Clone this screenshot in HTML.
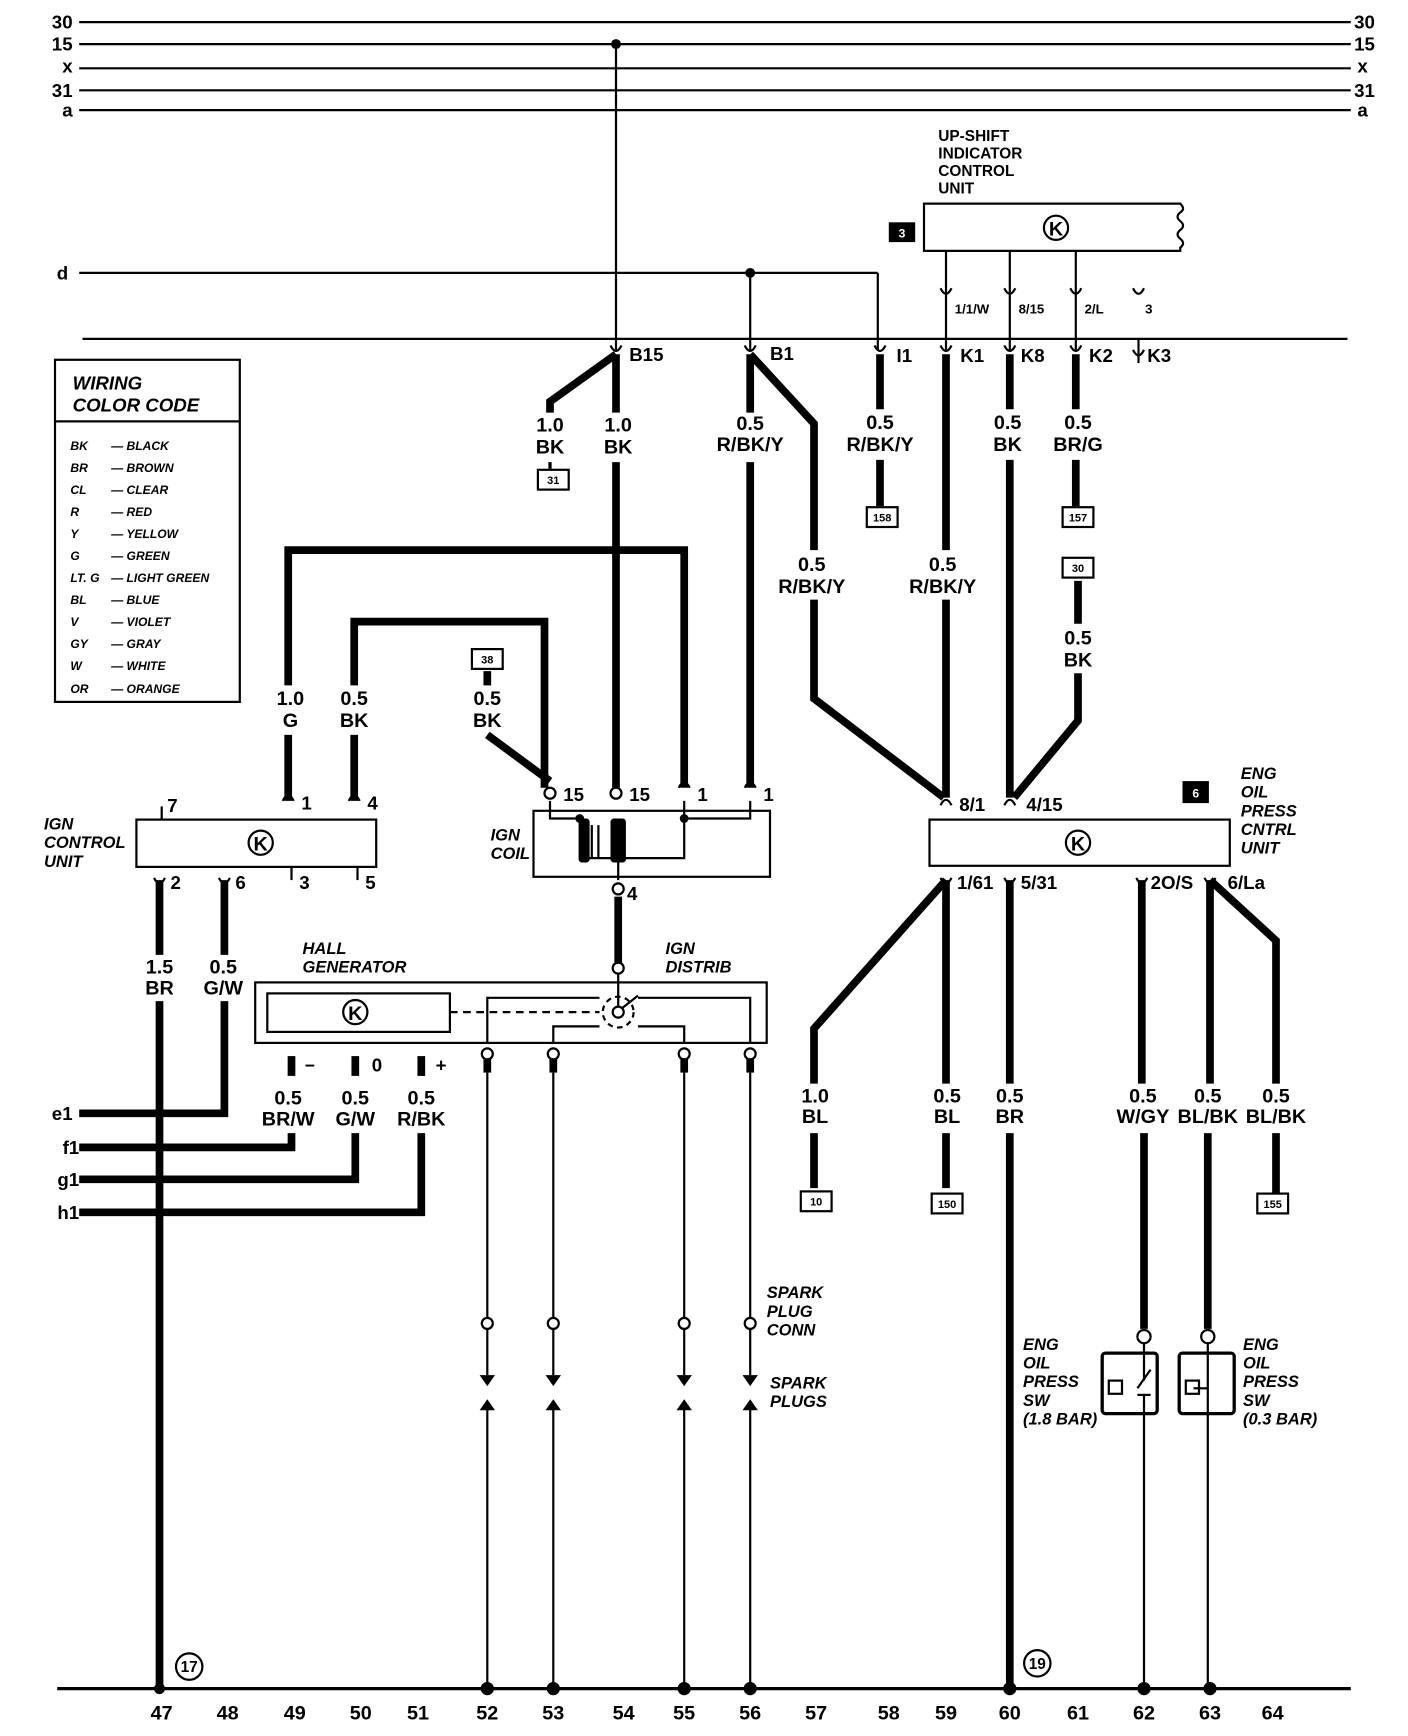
<!DOCTYPE html>
<html><head><meta charset="utf-8"><style>
html,body{margin:0;padding:0;background:#fff}
svg{display:block}
text{font-family:"Liberation Sans",Arial,sans-serif;font-weight:bold;fill:#000}
.w{font-size:18px;text-anchor:middle}
.i{font-style:italic;font-size:15px}
.s{font-size:13px}
.n{font-size:18px;text-anchor:middle}
</style></head><body>
<svg width="1408" height="1736" viewBox="0 0 1280 1578" xmlns="http://www.w3.org/2000/svg">
<g stroke="#000" fill="none" stroke-width="2">
<line x1="72" y1="20" x2="1228" y2="20"/>
<line x1="72" y1="40" x2="1228" y2="40"/>
<line x1="72" y1="62" x2="1228" y2="62"/>
<line x1="72" y1="82" x2="1228" y2="82"/>
<line x1="72" y1="100" x2="1228" y2="100"/>
<line x1="72" y1="248" x2="798" y2="248"/>
<line x1="798" y1="248" x2="798" y2="318"/>
<line x1="560" y1="40" x2="560" y2="318"/>
<line x1="682" y1="248" x2="682" y2="318"/>
<line x1="75" y1="308" x2="1225" y2="308"/>
<path d="M840 185 H1073 q5 5 0 8 q-5 4 0 8 q5 4 0 8 q-5 4 0 8 q5 4 0 8 V228 H840 Z"/>
<line x1="860" y1="228" x2="860" y2="318"/>
<line x1="918" y1="228" x2="918" y2="318"/>
<line x1="978" y1="228" x2="978" y2="318"/>
<path d="M855 262 q5 10 10 0 M913 262 q5 10 10 0 M973 262 q5 10 10 0 M1030 262 q5 10 10 0"/>
<line x1="1035" y1="308" x2="1035" y2="330" />
<path d="M1030 318 q5 10 10 0"/>
<rect x="50" y="327" width="168" height="311"/>
<line x1="50" y1="383" x2="218" y2="383"/>
</g>
<g fill="none" stroke="#000" stroke-width="7">
<path d="M560 322 L500 365 V375"/>
<path d="M560 322 V375"/>
<line x1="500" y1="420" x2="500" y2="426" stroke-width="3"/>
<path d="M560 420 V716"/>
<path d="M682 322 V375"/>
<path d="M682 420 V716"/>
<path d="M682 322 L740 385 V500"/>
<path d="M740 545 V635 L858 725"/>
<path d="M800 322 V372"/><path d="M800 418 V460"/>
<path d="M860 322 V500"/><path d="M860 545 V725"/>
<path d="M918 322 V372"/><path d="M918 418 V725"/>
<path d="M978 322 V372"/><path d="M978 418 V460"/>
<path d="M980 528 V567"/><path d="M980 612 V655 L922 725"/>
<path d="M262 623 V500 H622 V716"/>
<path d="M262 668 V728"/>
<path d="M322 623 V565 H495 V716"/>
<path d="M322 668 V728"/>
<path d="M443 610 V623"/><path d="M443 668 L500 710"/>
<path d="M145 800 V868"/><path d="M145 910 V1535"/>
<path d="M204 800 V868"/><path d="M204 910 V1012 H72"/>
<path d="M72 1043 H265 V1030"/><path d="M265 960 V978"/>
<path d="M72 1072 H323 V1030"/><path d="M323 960 V978"/>
<path d="M72 1102 H383 V1030"/><path d="M383 960 V978"/>
<path d="M562 815 V875"/>
<path d="M443 960 V975"/><path d="M503 960 V975"/><path d="M622 960 V975"/><path d="M682 960 V975"/>
<path d="M860 800 L740 935 V985"/><path d="M740 1030 V1080"/>
<path d="M860 800 V985"/><path d="M860 1030 V1080"/>
<path d="M918 800 V985"/><path d="M918 1030 V1535"/>
<path d="M1038 800 V985"/><path d="M1040 1030 V1208"/>
<path d="M1100 800 V985"/><path d="M1098 1030 V1208"/>
<path d="M1100 800 L1160 855 V985"/><path d="M1160 1030 V1085"/>
</g>
<g fill="none" stroke="#000" stroke-width="2">
<rect x="124" y="745" width="218" height="43"/>
<rect x="485" y="737" width="215" height="60"/>
<rect x="232" y="893" width="465" height="55"/>
<rect x="243" y="903" width="166" height="35"/>
<rect x="845" y="745" width="273" height="42"/>
<line x1="409" y1="920" x2="545" y2="920" stroke-dasharray="7,5"/>
<path d="M443 948 V907 H545 M503 948 V933 H545 M622 948 V933 H580 M682 948 V907 H580"/>
<circle cx="562" cy="920" r="14" stroke-dasharray="5,4"/>
<line x1="562" y1="884" x2="562" y2="915"/>
<line x1="566" y1="916" x2="580" y2="905"/>
<path d="M500 728 V744 H527 M527 780 H562 V800 M622 728 V780 H562 M622 744 H682 V728"/>
<line x1="538" y1="750" x2="538" y2="780"/><line x1="544" y1="750" x2="544" y2="780"/>
<line x1="147" y1="733" x2="147" y2="745"/>
<line x1="265" y1="788" x2="265" y2="800"/>
<line x1="325" y1="788" x2="325" y2="800"/>
<g>
<line x1="443" y1="975" x2="443" y2="1250"/><line x1="503" y1="975" x2="503" y2="1250"/>
<line x1="622" y1="975" x2="622" y2="1250"/><line x1="682" y1="975" x2="682" y2="1250"/>
<line x1="443" y1="1278" x2="443" y2="1535"/><line x1="503" y1="1278" x2="503" y2="1535"/>
<line x1="622" y1="1278" x2="622" y2="1535"/><line x1="682" y1="1278" x2="682" y2="1535"/>
</g>
<rect x="1002" y="1230" width="50" height="55" rx="3" stroke-width="3"/>
<rect x="1072" y="1230" width="50" height="55" rx="3" stroke-width="3"/>
<line x1="1040" y1="1220" x2="1040" y2="1255"/><line x1="1040" y1="1268" x2="1040" y2="1535"/>
<line x1="1034" y1="1268" x2="1046" y2="1268"/><line x1="1034" y1="1262" x2="1046" y2="1245"/>
<line x1="1098" y1="1220" x2="1098" y2="1535"/><line x1="1085" y1="1262" x2="1098" y2="1262"/>
<rect x="1008" y="1255" width="12" height="12"/><rect x="1078" y="1255" width="12" height="12"/>
<line x1="52" y1="1535" x2="1228" y2="1535" stroke-width="3"/>
<circle cx="172" cy="1515" r="12"/><circle cx="943" cy="1512" r="12"/>
<rect x="489" y="427" width="28" height="18"/><rect x="788" y="461" width="28" height="18"/>
<rect x="966" y="461" width="28" height="18"/><rect x="966" y="507" width="28" height="18"/>
<rect x="429" y="590" width="28" height="18"/>
<rect x="728" y="1083" width="28" height="18"/><rect x="847" y="1085" width="28" height="18"/>
<rect x="1143" y="1085" width="28" height="18"/>
<circle cx="960" cy="207" r="11"/><circle cx="237" cy="766" r="11"/>
<circle cx="323" cy="920" r="11"/><circle cx="980" cy="766" r="11"/>
<path d="M795 314 q5 10 10 0 M855 314 q5 10 10 0 M913 314 q5 10 10 0 M973 314 q5 10 10 0 M555 314 q5 10 10 0 M677 314 q5 10 10 0"/>
<path d="M617 716 q5 -10 10 0 M677 716 q5 -10 10 0 M257 728 q5 -10 10 0 M317 728 q5 -10 10 0 M855 732 q5 -10 10 0 M913 732 q5 -10 10 0"/>
<path d="M140 798 q5 10 10 0 M199 798 q5 10 10 0 M855 798 q5 10 10 0 M913 798 q5 10 10 0 M1033 798 q5 10 10 0 M1095 798 q5 10 10 0"/>
</g>
<g fill="#000">
<text x="960" y="214" class="n">K</text><text x="237" y="773" class="n">K</text>
<text x="323" y="927" class="n">K</text><text x="980" y="773" class="n">K</text>
<circle cx="560" cy="40" r="4.5"/><circle cx="682" cy="248" r="4.5"/>
<rect x="808" y="202" width="24" height="18"/><rect x="1075" y="710" width="24" height="20"/>
<rect x="526" y="744" width="10" height="40" rx="3"/><rect x="555" y="744" width="14" height="40" rx="3"/>
<circle cx="527" cy="744" r="4"/><circle cx="622" cy="744" r="4"/>
<circle cx="145" cy="1535" r="5"/><circle cx="443" cy="1535" r="6"/><circle cx="503" cy="1535" r="6"/>
<circle cx="622" cy="1535" r="6"/><circle cx="682" cy="1535" r="6"/><circle cx="918" cy="1535" r="6"/>
<circle cx="1040" cy="1535" r="6"/><circle cx="1100" cy="1535" r="6"/>
<path d="M436 1250 h14 l-7 10z M496 1250 h14 l-7 10z M615 1250 h14 l-7 10z M675 1250 h14 l-7 10z"/>
<path d="M436 1282 h14 l-7 -10z M496 1282 h14 l-7 -10z M615 1282 h14 l-7 -10z M675 1282 h14 l-7 -10z"/>
</g>
<g fill="#fff" stroke="#000" stroke-width="2">
<circle cx="500" cy="721" r="5"/><circle cx="560" cy="721" r="5"/><circle cx="562" cy="808" r="5"/>
<circle cx="562" cy="880" r="5"/><circle cx="562" cy="920" r="5"/>
<circle cx="443" cy="958" r="5"/><circle cx="503" cy="958" r="5"/><circle cx="622" cy="958" r="5"/><circle cx="682" cy="958" r="5"/>
<circle cx="443" cy="1203" r="5"/><circle cx="503" cy="1203" r="5"/><circle cx="622" cy="1203" r="5"/><circle cx="682" cy="1203" r="5"/>
<circle cx="1040" cy="1215" r="6"/><circle cx="1098" cy="1215" r="6"/>
</g>
<g font-size="17">
<text x="66" y="26" text-anchor="end">30</text><text x="66" y="46" text-anchor="end">15</text>
<text x="66" y="66" text-anchor="end">x</text><text x="66" y="88" text-anchor="end">31</text>
<text x="66" y="106" text-anchor="end">a</text><text x="62" y="254" text-anchor="end">d</text>
<text x="1231" y="26">30</text><text x="1231" y="46">15</text><text x="1234" y="66">x</text>
<text x="1231" y="88">31</text><text x="1234" y="106">a</text>
<text x="66" y="1018" text-anchor="end">e1</text><text x="72" y="1049" text-anchor="end">f1</text>
<text x="72" y="1078" text-anchor="end">g1</text><text x="72" y="1108" text-anchor="end">h1</text>
</g>
<g font-size="14">
<text x="853" y="128">UP-SHIFT</text><text x="853" y="144">INDICATOR</text>
<text x="853" y="160">CONTROL</text><text x="853" y="176">UNIT</text>
</g>
<text x="820" y="216" style="fill:#fff" font-size="11" text-anchor="middle">3</text>
<text x="1087" y="725" style="fill:#fff" font-size="11" text-anchor="middle">6</text>
<g font-size="12">
<text x="868" y="285">1/1/W</text><text x="926" y="285">8/15</text><text x="986" y="285">2/L</text><text x="1041" y="285">3</text>
</g>
<g font-size="17">
<text x="572" y="328">B15</text><text x="700" y="327">B1</text><text x="815" y="329">I1</text>
<text x="873" y="329">K1</text><text x="928" y="329">K8</text><text x="990" y="329">K2</text><text x="1043" y="329">K3</text>
<text x="512" y="728">15</text><text x="572" y="728">15</text><text x="634" y="728">1</text><text x="694" y="728">1</text>
<text x="570" y="818">4</text>
<text x="152" y="738">7</text><text x="274" y="736">1</text><text x="334" y="736">4</text>
<text x="155" y="808">2</text><text x="214" y="808">6</text><text x="272" y="808">3</text><text x="332" y="808">5</text>
<text x="872" y="737">8/1</text><text x="933" y="737">4/15</text>
<text x="870" y="808">1/61</text><text x="928" y="808">5/31</text><text x="1046" y="808">2O/S</text><text x="1116" y="808">6/La</text>
<text x="277" y="974" font-size="16">−</text><text x="338" y="974">0</text><text x="396" y="974">+</text>
</g>
<g class="w">
<text x="500" y="392" class="w">1.0</text><text x="500" y="412" class="w">BK</text>
<text x="562" y="392" class="w">1.0</text><text x="562" y="412" class="w">BK</text>
<text x="682" y="391" class="w">0.5</text><text x="682" y="410" class="w">R/BK/Y</text>
<text x="800" y="390" class="w">0.5</text><text x="800" y="410" class="w">R/BK/Y</text>
<text x="916" y="390" class="w">0.5</text><text x="916" y="410" class="w">BK</text>
<text x="980" y="390" class="w">0.5</text><text x="980" y="410" class="w">BR/G</text>
<text x="738" y="519" class="w">0.5</text><text x="738" y="539" class="w">R/BK/Y</text>
<text x="857" y="519" class="w">0.5</text><text x="857" y="539" class="w">R/BK/Y</text>
<text x="980" y="586" class="w">0.5</text><text x="980" y="606" class="w">BK</text>
<text x="264" y="641" class="w">1.0</text><text x="264" y="661" class="w">G</text>
<text x="322" y="641" class="w">0.5</text><text x="322" y="661" class="w">BK</text>
<text x="443" y="641" class="w">0.5</text><text x="443" y="661" class="w">BK</text>
<text x="145" y="885" class="w">1.5</text><text x="145" y="904" class="w">BR</text>
<text x="203" y="885" class="w">0.5</text><text x="203" y="904" class="w">G/W</text>
<text x="262" y="1004" class="w">0.5</text><text x="262" y="1023" class="w">BR/W</text>
<text x="323" y="1004" class="w">0.5</text><text x="323" y="1023" class="w">G/W</text>
<text x="383" y="1004" class="w">0.5</text><text x="383" y="1023" class="w">R/BK</text>
<text x="741" y="1002" class="w">1.0</text><text x="741" y="1021" class="w">BL</text>
<text x="861" y="1002" class="w">0.5</text><text x="861" y="1021" class="w">BL</text>
<text x="918" y="1002" class="w">0.5</text><text x="918" y="1021" class="w">BR</text>
<text x="1039" y="1002" class="w">0.5</text><text x="1039" y="1021" class="w">W/GY</text>
<text x="1098" y="1002" class="w">0.5</text><text x="1098" y="1021" class="w">BL/BK</text>
<text x="1160" y="1002" class="w">0.5</text><text x="1160" y="1021" class="w">BL/BK</text>
</g>
<g font-size="10" text-anchor="middle">
<text x="503" y="440">31</text><text x="802" y="474">158</text><text x="980" y="474">157</text>
<text x="980" y="520">30</text><text x="443" y="603">38</text><text x="742" y="1096">10</text>
<text x="861" y="1098">150</text><text x="1157" y="1098">155</text>
</g>
<g class="i">
<text x="66" y="354" font-size="17">WIRING</text><text x="66" y="374" font-size="17">COLOR CODE</text>
<text x="40" y="754">IGN</text><text x="40" y="771">CONTROL</text><text x="40" y="788">UNIT</text>
<text x="446" y="764">IGN</text><text x="446" y="781">COIL</text>
<text x="275" y="867">HALL</text><text x="275" y="884">GENERATOR</text>
<text x="605" y="867">IGN</text><text x="605" y="884">DISTRIB</text>
<text x="697" y="1180">SPARK</text><text x="697" y="1197">PLUG</text><text x="697" y="1214">CONN</text>
<text x="700" y="1262">SPARK</text><text x="700" y="1279">PLUGS</text>
<text x="1128" y="708">ENG</text><text x="1128" y="725">OIL</text><text x="1128" y="742">PRESS</text>
<text x="1128" y="759">CNTRL</text><text x="1128" y="776">UNIT</text>
<text x="930" y="1227">ENG</text><text x="930" y="1244">OIL</text><text x="930" y="1261">PRESS</text>
<text x="930" y="1278">SW</text><text x="930" y="1295">(1.8 BAR)</text>
<text x="1130" y="1227">ENG</text><text x="1130" y="1244">OIL</text><text x="1130" y="1261">PRESS</text>
<text x="1130" y="1278">SW</text><text x="1130" y="1295">(0.3 BAR)</text>
</g>
<g class="i" style="font-size:11px">
<text x="64" y="409">BK</text><text x="101" y="409">— BLACK</text>
<text x="64" y="429">BR</text><text x="101" y="429">— BROWN</text>
<text x="64" y="449">CL</text><text x="101" y="449">— CLEAR</text>
<text x="64" y="469">R</text><text x="101" y="469">— RED</text>
<text x="64" y="489">Y</text><text x="101" y="489">— YELLOW</text>
<text x="64" y="509">G</text><text x="101" y="509">— GREEN</text>
<text x="64" y="529">LT. G</text><text x="101" y="529">— LIGHT GREEN</text>
<text x="64" y="549">BL</text><text x="101" y="549">— BLUE</text>
<text x="64" y="569">V</text><text x="101" y="569">— VIOLET</text>
<text x="64" y="589">GY</text><text x="101" y="589">— GRAY</text>
<text x="64" y="609">W</text><text x="101" y="609">— WHITE</text>
<text x="64" y="630">OR</text><text x="101" y="630">— ORANGE</text>
</g>
<g font-size="14" text-anchor="middle">
<text x="172" y="1520">17</text><text x="943" y="1517">19</text>
</g>
<g class="n" font-size="17">
<text x="147" y="1563">47</text><text x="207" y="1563">48</text><text x="268" y="1563">49</text>
<text x="328" y="1563">50</text><text x="380" y="1563">51</text><text x="443" y="1563">52</text>
<text x="503" y="1563">53</text><text x="567" y="1563">54</text><text x="622" y="1563">55</text>
<text x="682" y="1563">56</text><text x="742" y="1563">57</text><text x="808" y="1563">58</text>
<text x="860" y="1563">59</text><text x="918" y="1563">60</text><text x="980" y="1563">61</text>
<text x="1040" y="1563">62</text><text x="1100" y="1563">63</text><text x="1157" y="1563">64</text>
</g>
</svg>
</body></html>
